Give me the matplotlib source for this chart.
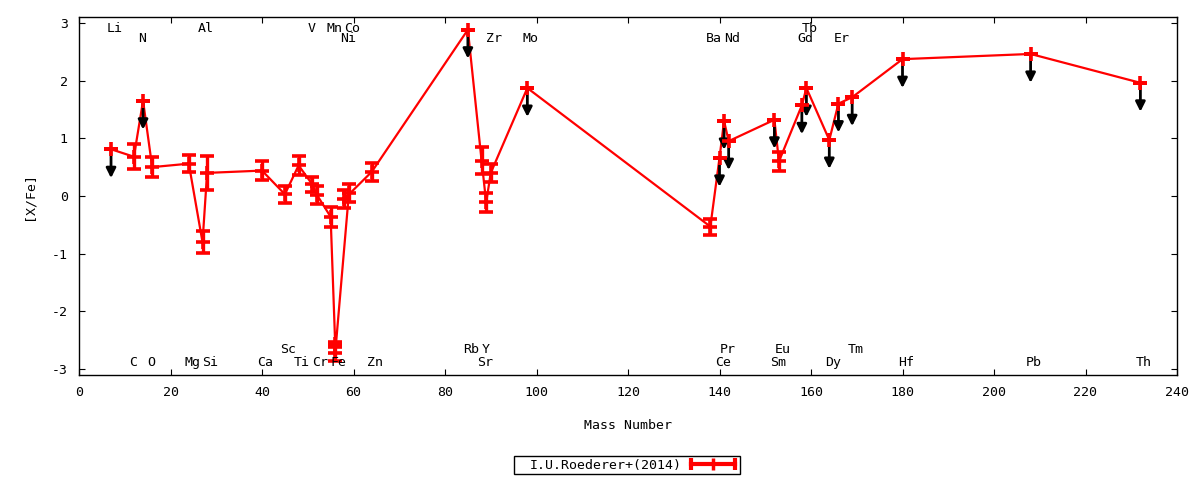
import matplotlib
matplotlib.use('Agg')
import matplotlib.pyplot as plt
from matplotlib.lines import Line2D
from matplotlib.patches import Rectangle
from matplotlib.legend_handler import HandlerBase

# ---------------- data ----------------
elements = ['Li', 'C', 'N', 'O', 'Mg', 'Al', 'Si', 'Ca', 'Sc', 'Ti', 'V', 'Cr', 'Mn',
            'Fe', 'Fe', 'Co', 'Ni', 'Zn', 'Rb', 'Sr', 'Y', 'Zr', 'Mo', 'Ba', 'Ce',
            'Pr', 'Nd', 'Sm', 'Eu', 'Gd', 'Tb', 'Dy', 'Er', 'Tm', 'Hf', 'Pb', 'Th']
mass = [7, 12, 14, 16, 24, 27, 28, 40, 45, 48, 51, 52, 55,
        56, 56, 59, 58, 64, 85, 88, 89, 90, 98, 138, 140,
        141, 142, 152, 153, 158, 159, 164, 166, 169, 180, 208, 232]
x_fe = [0.81, 0.68, 1.65, 0.50, 0.56, -0.80, 0.40, 0.44, 0.03, 0.53, 0.20, 0.02, -0.36,
        -2.57, -2.72, 0.05, -0.05, 0.42, 2.88, 0.61, -0.11, 0.40, 1.87, -0.53, 0.66,
        1.30, 0.95, 1.32, 0.60, 1.57, 1.87, 0.97, 1.60, 1.71, 2.37, 2.46, 1.96]
x_fe_err = [0, 0.22, 0, 0.17, 0.15, 0.19, 0.30, 0.17, 0.15, 0.16, 0.13, 0.15, 0.17,
            0.05, 0.13, 0.15, 0.15, 0.16, 0, 0.23, 0.17, 0.16, 0, 0.14, 0,
            0, 0, 0, 0.16, 0, 0, 0, 0, 0, 0, 0, 0]
upper_limit = [1, 0, 1, 0, 0, 0, 0, 0, 0, 0, 0, 0, 0,
               0, 0, 0, 0, 0, 1, 0, 0, 0, 1, 0, 1,
               1, 1, 1, 0, 1, 1, 1, 1, 1, 1, 1, 1]
limit_arrow = 0.5

label_text = ['Li', 'N', 'Al', 'V', 'Mn', 'Co', 'Ni', 'Zr', 'Mo', 'Ba', 'Nd', 'Tb', 'Gd', 'Er',
              'C', 'O', 'Mg', 'Si', 'Ca', 'Sc', 'Ti', 'Cr', 'Fe', 'Zn', 'Rb', 'Y', 'Sr',
              'Pr', 'Ce', 'Eu', 'Sm', 'Dy', 'Tm', 'Hf', 'Pb', 'Th']
label_mass = [7, 14, 27, 51, 55, 59, 58, 90, 98, 138, 142, 159, 158, 166,
              12, 16, 24, 28, 40, 45, 48, 52, 56, 64, 85, 89, 88,
              141, 140, 153, 152, 164, 169, 180, 208, 232]
# 0: top upper row, 1: top lower row, 2: bottom upper row, 3: bottom lower row
label_row = [0, 1, 0, 0, 0, 0, 1, 1, 1, 1, 1, 0, 1, 1,
             3, 3, 3, 3, 3, 2, 3, 3, 3, 3, 2, 2, 3,
             2, 3, 2, 3, 3, 2, 3, 3, 3]

legend_label = 'I.U.Roederer+(2014)'

# ---------------- style ----------------
FS = 9.5
plt.rcParams['font.family'] = ['DejaVu Sans Mono', 'DejaVu Sans']
plt.rcParams['font.size'] = FS
plt.rcParams['axes.unicode_minus'] = False

row_y = {0: 2.9, 1: 2.73, 2: -2.65, 3: -2.88}

fig = plt.figure(figsize=(12, 4.8), dpi=100)
ax = fig.add_axes([79 / 1200, 1 - 375 / 480, (1177 - 79) / 1200, (375 - 17) / 480])

ax.plot(mass, x_fe, color='red', lw=1.6, zorder=2)
ax.errorbar(mass, x_fe, yerr=x_fe_err, fmt='none', ecolor='red', elinewidth=2.4,
            capsize=5, capthick=2.6, zorder=3)
ax.plot(mass, x_fe, ls='none', marker='+', ms=10, mew=2.6, color='red', zorder=5)

for m, v, ul in zip(mass, x_fe, upper_limit):
    if ul:
        ax.annotate('', xy=(m, v - limit_arrow), xytext=(m, v), xycoords='data',
                    arrowprops=dict(arrowstyle='-|>,head_length=0.6,head_width=0.3',
                                    color='black', lw=2, shrinkA=0, shrinkB=0),
                    zorder=4)

for t, m, r in zip(label_text, label_mass, label_row):
    ax.text(m - 1.0, row_y[r], t, ha='left', va='center', fontsize=FS, zorder=6)

ax.set_xlim(0, 240)
ax.set_ylim(-3.1, 3.1)
ax.set_xticks(range(0, 241, 20))
ax.set_yticks(range(-3, 4))
ax.tick_params(direction='in', top=True, right=True, length=4, width=0.8, pad=8)
for s in ax.spines.values():
    s.set_linewidth(1.0)

ax.set_xlabel('Mass Number', labelpad=14)
ax.set_ylabel('[X/Fe]', labelpad=12)


class ErrHandler(HandlerBase):
    def create_artists(self, legend, orig_handle, xdescent, ydescent, width, height,
                       fontsize, trans):
        y = height / 2 - ydescent
        x0 = -xdescent
        x1 = x0 + width
        line = Line2D([x0, x1], [y, y], color='red', lw=3)
        caps = Line2D([x0, x1], [y, y], ls='none', marker='|', ms=9, mew=3, color='red')
        mid = Line2D([(x0 + x1) / 2], [y], ls='none', marker='|', ms=9, mew=2.5, color='red')
        for a in (line, caps, mid):
            a.set_transform(trans)
        return [line, caps, mid]


handle = Line2D([], [], color='red')
leg = fig.legend([handle], [legend_label], handler_map={handle: ErrHandler()},
                 loc='center left', bbox_to_anchor=(530 / 1200, 1 - 465 / 480),
                 markerfirst=False, frameon=False, handlelength=3.3, handletextpad=0.7,
                 borderpad=0.0, borderaxespad=0.0, fontsize=FS)
fig.patches.append(Rectangle((514 / 1200, 1 - 474 / 480), 226 / 1200, 18 / 480,
                             transform=fig.transFigure, fill=False, edgecolor='black',
                             linewidth=1.0, zorder=10))

fig.savefig('out.png', dpi=100, facecolor='white')
